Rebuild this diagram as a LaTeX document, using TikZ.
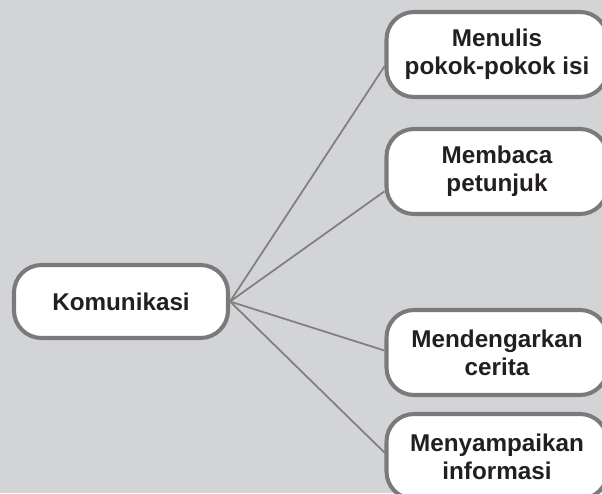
\documentclass[tikz,border=0pt]{standalone}
\usepackage{fontspec}
\setmainfont{Liberation Sans}
\usepackage{tikz}
\usetikzlibrary{positioning}

\definecolor{bggray}{RGB}{211,212,214}
\definecolor{rimgray}{RGB}{122,122,124}
\definecolor{linkgray}{RGB}{128,128,130}
\definecolor{inkblack}{RGB}{35,31,32}

\begin{document}
\begin{tikzpicture}[
                    topic/.style={rectangle,rounded corners=0.55cm,draw=rimgray,line width=2.3pt,fill=white,
                                  text=inkblack,align=center,inner sep=0pt,
                                  font=\fontsize{13.8}{16}\selectfont\bfseries},
                    root/.style={topic,minimum width=4.28cm,minimum height=1.46cm},
                    leaf/.style={topic,minimum width=4.42cm,minimum height=1.7cm},
                    link/.style={draw=linkgray,line width=1pt}
                ]
                    \clip (0,0) rectangle (12.04,9.86);
                    \fill[bggray] (0,0) rectangle (12.04,9.86);
                    \node[root] (kom) at (2.42,3.83) {Komunikasi};
                    \node[leaf] (tulis) at (9.94,8.77) {Menulis\\pokok-pokok isi};
                    \node[leaf] (baca) at (9.94,6.43) {Membaca\\petunjuk};
                    \node[leaf] (dengar) at (9.94,2.81) {Mendengarkan\\cerita};
                    \node[leaf] (sampai) at (9.94,0.73) {Menyampaikan\\informasi};
                    \foreach \n/\a in {tulis/186,baca/190,dengar/179,sampai/178}
                        {
                        \draw[link] (kom.east) -- (\n.\a);
                    }
                \end{tikzpicture}
\end{document}
